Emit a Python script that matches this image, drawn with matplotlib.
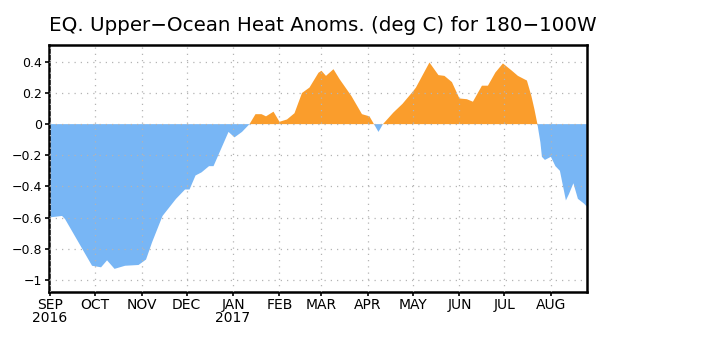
import pandas as pd
import numpy as np
from matplotlib import pyplot as plt

# equatorial upper-ocean heat content anomaly, 180-100W (deg C)
dates = ['2016-08-31', '2016-09-09', '2016-09-11', '2016-09-20', '2016-09-29',
         '2016-10-05', '2016-10-09', '2016-10-14', '2016-10-21', '2016-10-30',
         '2016-11-04', '2016-11-08', '2016-11-15', '2016-11-24', '2016-11-30',
         '2016-12-03', '2016-12-07', '2016-12-11', '2016-12-16', '2016-12-19',
         '2016-12-24', '2016-12-29', '2017-01-02', '2017-01-07', '2017-01-12',
         '2017-01-16', '2017-01-20', '2017-01-23', '2017-01-28', '2017-02-01',
         '2017-02-06', '2017-02-11', '2017-02-16', '2017-02-21', '2017-02-27',
         '2017-03-01', '2017-03-04', '2017-03-09', '2017-03-13', '2017-03-21',
         '2017-03-28', '2017-04-02', '2017-04-05', '2017-04-08', '2017-04-11',
         '2017-04-18', '2017-04-24', '2017-05-01', '2017-05-03', '2017-05-12',
         '2017-05-18', '2017-05-22', '2017-05-27', '2017-06-01', '2017-06-06',
         '2017-06-10', '2017-06-16', '2017-06-20', '2017-06-25', '2017-06-30',
         '2017-07-06', '2017-07-10', '2017-07-16', '2017-07-19', '2017-07-21',
         '2017-07-23', '2017-07-25', '2017-07-26', '2017-07-28', '2017-08-01',
         '2017-08-04', '2017-08-07', '2017-08-11', '2017-08-13', '2017-08-16',
         '2017-08-19', '2017-08-23', '2017-08-25']
anom = [-0.60, -0.59, -0.61, -0.76, -0.91,
        -0.92, -0.875, -0.93, -0.91, -0.905,
        -0.87, -0.76, -0.59, -0.48, -0.42,
        -0.42, -0.33, -0.31, -0.27, -0.27,
        -0.16, -0.05, -0.085, -0.05, 0.0,
        0.064, 0.064, 0.05, 0.08, 0.015,
        0.03, 0.07, 0.20, 0.235, 0.33,
        0.343, 0.31, 0.353, 0.29, 0.18,
        0.064, 0.05, 0.0, -0.05, 0.0,
        0.075, 0.13, 0.21, 0.235, 0.396,
        0.315, 0.31, 0.27, 0.165, 0.16,
        0.144, 0.247, 0.247, 0.332, 0.39,
        0.343, 0.31, 0.28, 0.18, 0.096,
        0.0, -0.118, -0.21, -0.23, -0.21,
        -0.27, -0.30, -0.49, -0.45, -0.38,
        -0.48, -0.51, -0.53]

yticks = [0.4, 0.2, 0, -0.2, -0.4, -0.6, -0.8, -1]
ylabels = ['0.4', '0.2', '0', '\u22120.2', '\u22120.4', '\u22120.6', '\u22120.8', '\u22121']
months = ['2016-09-01', '2016-10-01', '2016-11-01', '2016-12-01', '2017-01-01',
          '2017-02-01', '2017-03-01', '2017-04-01', '2017-05-01', '2017-06-01',
          '2017-07-01', '2017-08-01']
mlabels = ['SEP\n2016', 'OCT', 'NOV', 'DEC', 'JAN\n2017', 'FEB', 'MAR', 'APR',
           'MAY', 'JUN', 'JUL', 'AUG']

t = pd.to_datetime(dates)
v = np.array(anom)

fig = plt.figure(figsize=(7.06, 3.39), dpi=100)
ax = fig.add_axes([0.0688, 0.138, 0.7625, 0.730])

# warm anomalies orange, cold ones blue
ax.fill_between(t, 0, v, where=v >= 0, interpolate=True, color='#fa9d2c', lw=0)
ax.fill_between(t, 0, v, where=v <= 0, interpolate=True, color='#78b6f5', lw=0)

ax.set_xlim(t[0], t[-1])
ax.set_ylim(-1.08, 0.51)

ax.set_yticks(yticks)
ax.set_yticklabels(ylabels)
ax.set_xticks(pd.to_datetime(months))
ax.set_xticklabels(mlabels, linespacing=0.95)

ax.grid(True, color='#b4b4b4', linestyle=(0, (1, 4)), lw=0.9)
ax.set_axisbelow(False)
for s in ax.spines.values():
    s.set_linewidth(1.8)
ax.tick_params(direction='out', length=3, width=1.2, labelsize=9, pad=1.5)
ax.tick_params(axis='x', labelsize=10, pad=1)

fig.text(0.069, 0.925, 'EQ. Upper\u2212Ocean Heat Anoms. (deg C) for 180\u2212100W',
         fontsize=14.3, va='center', ha='left')

plt.savefig('out.png', dpi=100)
